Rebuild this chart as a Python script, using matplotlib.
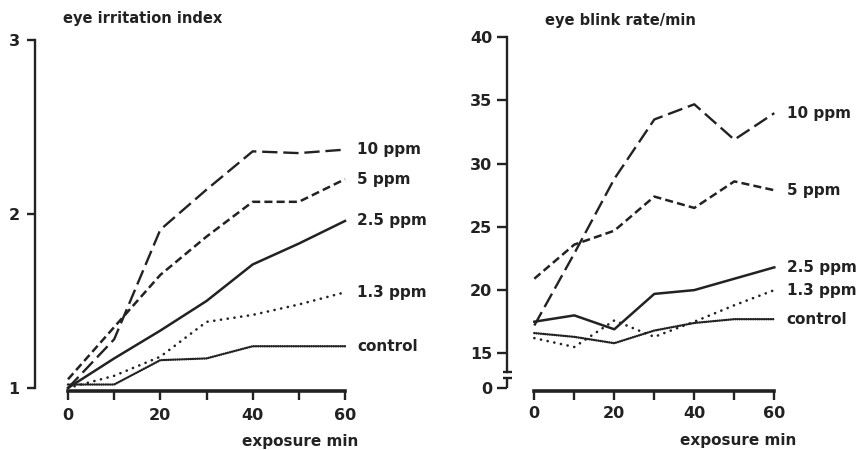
import numpy as np
import matplotlib
matplotlib.use("Agg")
import matplotlib.pyplot as plt
import matplotlib.transforms as mtransforms
from matplotlib.ticker import FixedLocator, NullFormatter

plt.rcParams["font.family"] = ["DejaVu Sans"]
plt.rcParams["font.weight"] = "bold"
plt.rcParams["lines.scale_dashes"] = False

# ---- data -------------------------------------------------------------
minutes = [0, 10, 20, 30, 40, 50, 60]
series_labels = ["10 ppm", "5 ppm", "2.5 ppm", "1.3 ppm", "control"]

irr_10 = [1.00, 1.28, 1.91, 2.14, 2.36, 2.35, 2.37]
irr_5 = [1.05, 1.35, 1.65, 1.87, 2.07, 2.07, 2.20]
irr_2_5 = [1.00, 1.17, 1.33, 1.50, 1.71, 1.83, 1.96]
irr_1_3 = [1.00, 1.07, 1.18, 1.38, 1.42, 1.48, 1.55]
irr_ctrl = [1.02, 1.02, 1.16, 1.17, 1.24, 1.24, 1.24]

blink_10 = [17.2, 22.9, 28.8, 33.5, 34.7, 31.9, 34.0]
blink_5 = [20.9, 23.6, 24.7, 27.4, 26.5, 28.6, 27.9]
blink_2_5 = [17.5, 18.0, 16.9, 19.7, 20.0, 20.9, 21.8]
blink_1_3 = [16.2, 15.5, 17.6, 16.3, 17.5, 18.8, 20.0]
blink_ctrl = [16.6, 16.3, 15.8, 16.8, 17.4, 17.7, 17.7]

irr_ticks = [1, 2, 3]
blink_ticks = [0, 15, 20, 25, 30, 35, 40]
x_major = [0, 20, 40, 60]
x_minor = [10, 30, 50]

# ---- styles -------------------------------------------------------------
INK = "#222222"
W, H = 856, 450

styles = [
    dict(lw=1.7, ls=(0, (11, 4.2))),                 # 10 ppm
    dict(lw=1.8, ls=(0, (5.8, 3.0))),                # 5 ppm
    dict(lw=1.8, ls="-"),                            # 2.5 ppm
    dict(lw=1.9, ls=(0, (0.1, 4.8)), cap="round"),   # 1.3 ppm
    dict(lw=1.8, ls=(0, (0.1, 1.5)), cap="round"),   # control
]


def px_axes(fig, x0, y0, x1, y1):
    """Axes box given by pixel edges (left, top, right, bottom)."""
    return fig.add_axes([x0 / W, 1 - y1 / H, (x1 - x0) / W, (y1 - y0) / H])


def draw_series(ax, values_list, label_dx):
    for vals, lab, st in zip(values_list, series_labels, styles):
        line, = ax.plot(minutes, vals, color=INK, lw=st["lw"], linestyle=st["ls"],
                        clip_on=False)
        if "cap" in st:
            line.set_dash_capstyle(st["cap"])
        ax.annotate(lab, xy=(minutes[-1], vals[-1]), xytext=(label_dx, 0),
                    textcoords="offset points", ha="left", va="center",
                    fontsize=11, fontweight="bold", color=INK,
                    annotation_clip=False)


def style_x(ax, tick_pad):
    ax.spines["top"].set_visible(False)
    ax.spines["right"].set_visible(False)
    ax.spines["bottom"].set_bounds(0, 60)
    ax.spines["bottom"].set_linewidth(2.6)
    ax.spines["bottom"].set_color(INK)
    ax.set_xticks(x_major)
    ax.set_xticklabels([str(v) for v in x_major])
    ax.xaxis.set_minor_locator(FixedLocator(x_minor))
    ax.xaxis.set_minor_formatter(NullFormatter())
    ax.tick_params(axis="x", which="both", direction="out", length=6.5, width=1.7,
                   color=INK, pad=tick_pad, labelsize=11.5, labelcolor=INK)


fig = plt.figure(figsize=(W / 100, H / 100), dpi=100)
fig.patch.set_facecolor("white")

# ---- left panel: eye irritation index ----------------------------------
axL = px_axes(fig, 35, 40, 345, 391)
axL.set_xlim(-33 / (277 / 60), 60)
axL.set_ylim(1 - 3 / 174, 3)
draw_series(axL, [irr_10, irr_5, irr_2_5, irr_1_3, irr_ctrl], 8.6)
style_x(axL, 5.5)
axL.spines["left"].set_bounds(1, 3)
axL.spines["left"].set_linewidth(1.7)
axL.spines["left"].set_color(INK)
axL.set_yticks(irr_ticks)
axL.set_yticklabels([str(v) for v in irr_ticks])
axL.tick_params(axis="y", direction="out", length=5.5, width=1.7, color=INK,
                pad=5.5, labelsize=11.5, labelcolor=INK)

# ---- right panel: eye blink rate with a broken axis below 15 ---------
K = 2.745 / 15.0


def fwd(y):
    y = np.asarray(y, dtype=float)
    return np.where(y >= 15, y, 15 - (15 - y) * K)


def inv(t):
    t = np.asarray(t, dtype=float)
    return np.where(t >= 15, t, 15 - (15 - t) / K)


axR = px_axes(fig, 507, 37.3, 774.3, 390.7)
axR.set_yscale("function", functions=(fwd, inv))
axR.set_xlim(-(534.3 - 507) / 4.0, 60)
axR.set_ylim(float(inv(15 - (390.7 - 353.3) / 12.64)), 40)
draw_series(axR, [blink_10, blink_5, blink_2_5, blink_1_3, blink_ctrl], 8.9)
style_x(axR, 4.5)

break_hi = float(inv(15 - (372.3 - 353.3) / 12.64))
break_lo = float(inv(15 - (377.7 - 353.3) / 12.64))
axR.spines["left"].set_bounds(break_hi, 40)
axR.spines["left"].set_linewidth(1.7)
axR.spines["left"].set_color(INK)
axR.set_yticks(blink_ticks)
axR.set_yticklabels([str(v) for v in blink_ticks])
axR.tick_params(axis="y", direction="out", length=7.2, width=1.7, color=INK,
                pad=3.5, labelsize=11.5, labelcolor=INK)

# lower spine piece and the break bars
trans = mtransforms.blended_transform_factory(axR.transAxes, axR.transData)
half = 4.5 / (774.3 - 507)
axR.plot([0, 0], [0, break_lo], color=INK, lw=1.7, transform=trans,
         clip_on=False, solid_capstyle="butt")
for yb in (break_hi, break_lo):
    axR.plot([-half, half], [yb, yb], color=INK, lw=1.7, transform=trans,
             clip_on=False, solid_capstyle="butt")

# ---- axis titles --------------------------------------------------------
def ftext(x, y, s, size=10.5):
    fig.text(x / W, 1 - y / H, s, ha="left", va="center", fontsize=size,
             fontweight="bold", color=INK)


ftext(63, 19, "eye irritation index")
ftext(545, 20.7, "eye blink rate/min")
ftext(241.7, 441.7, "exposure min", 11)
ftext(680, 440, "exposure min", 11)

fig.savefig("out.png", dpi=100, facecolor="white")
